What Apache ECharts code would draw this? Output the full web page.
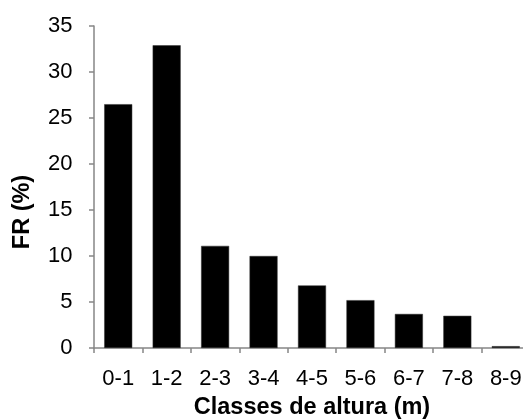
<!DOCTYPE html>
<html>
<head>
<meta charset="utf-8">
<script src="https://cdn.jsdelivr.net/npm/echarts@6/dist/echarts.min.js"></script>
<style>html,body{margin:0;padding:0;background:#fff;}#c{width:523px;height:420px;}</style>
</head>
<body>
<div id="c"></div>
<script>
const categories = ['0-1','1-2','2-3','3-4','4-5','5-6','6-7','7-8','8-9'];
const frValues = [26.5, 32.9, 11.1, 10.0, 6.8, 5.2, 3.7, 3.5, 0.2];
const xName = 'Classes de altura (m)';
const yName = 'FR (%)';

const chart = echarts.init(document.getElementById('c'), null, {renderer: 'canvas'});
const font = 'Liberation Sans, Arial, sans-serif';
const axisColor = '#868686';
chart.setOption({
  animation: false,
  backgroundColor: '#ffffff',
  grid: {left: 94, right: -7, top: 26, bottom: 72, containLabel: false, outerBoundsMode: 'none'},
  xAxis: {
    type: 'category',
    data: categories,
    name: xName,
    nameLocation: 'middle',
    nameGap: 48,
    nameTextStyle: {fontFamily: font, fontSize: 23.5, fontWeight: 'bold', color: '#000'},
    axisLine: {lineStyle: {color: axisColor, width: 1.5}},
    axisTick: {show: true, length: 5, lineStyle: {color: axisColor, width: 1.5}},
    axisLabel: {fontFamily: font, fontSize: 22, color: '#000', margin: 19.5, interval: 0}
  },
  yAxis: {
    type: 'value',
    min: 0, max: 35, interval: 5,
    name: yName,
    nameLocation: 'middle',
    nameGap: 59,
    nameRotate: 90,
    nameTextStyle: {fontFamily: font, fontSize: 23.5, fontWeight: 'bold', color: '#000', padding: [0, 50, 0, 0]},
    axisLine: {show: true, lineStyle: {color: axisColor, width: 1.5}},
    axisTick: {show: true, length: 5, lineStyle: {color: axisColor, width: 1.5}},
    splitLine: {show: false},
    axisLabel: {fontFamily: font, fontSize: 22, color: '#000', margin: 21.5}
  },
  series: [{
    type: 'bar',
    data: frValues,
    barWidth: 28,
    itemStyle: {color: '#000', borderColor: '#333', borderWidth: 0.5}
  }]
});
</script>
</body>
</html>
